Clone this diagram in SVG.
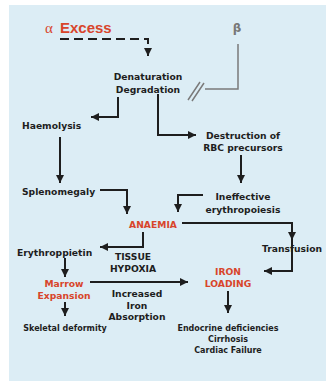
<svg xmlns="http://www.w3.org/2000/svg" width="326" height="381" viewBox="0 0 326 381">
<defs>
<marker id="ah" markerWidth="8" markerHeight="8" viewBox="0 0 8 8" refX="8" refY="4" orient="auto" markerUnits="userSpaceOnUse">
<path d="M0,0 L8,4 L0,8 Z" fill="#1e1e1e"/>
</marker>
<style>
.t{font-family:"DejaVu Sans",Verdana,sans-serif;font-weight:bold;font-size:9.2px;fill:#1e1e1e;text-anchor:middle}
.s{text-anchor:start}
.r{fill:#d8452b}
.sm{font-size:8px}
.c{fill:none;stroke:#1e1e1e;stroke-width:2}
.g{fill:none;stroke:#7a7a7a;stroke-width:1.5}
</style>
</defs>
<rect x="0" y="0" width="326" height="381" fill="#ffffff"/>
<rect x="9" y="5" width="317" height="376" fill="#dcedf5"/>
<g id="connectors">
<path class="c" d="M60,39 H148 V56" stroke-dasharray="9,5" marker-end="url(#ah)"/>
<path class="c" d="M118,97 V117 H91" marker-end="url(#ah)"/>
<path class="c" d="M158,94 V135 H196" marker-end="url(#ah)"/>
<path class="c" d="M60,137 V183" marker-end="url(#ah)"/>
<path class="c" d="M100,190 H127 V214" marker-end="url(#ah)"/>
<path class="c" d="M241,155 V183" marker-end="url(#ah)"/>
<path class="c" d="M203,195 H178 V212" marker-end="url(#ah)"/>
<path class="c" d="M182,223 H292 V240" marker-end="url(#ah)"/>
<path class="c" d="M292,240 V271 H264" marker-end="url(#ah)"/>
<path class="c" d="M143,232 V247 H100" marker-end="url(#ah)"/>
<path class="c" d="M65,258 V277" marker-end="url(#ah)"/>
<path class="c" d="M90,282 H188" marker-end="url(#ah)"/>
<path class="c" d="M65,302 V316" marker-end="url(#ah)"/>
<path class="c" d="M228,291 V313" marker-end="url(#ah)"/>
<path class="g" d="M238,44 V89 H205"/>
<path class="g" d="M188,100 L200,82 M192,101 L204,83"/>
</g>
<g id="alpha"><text x="45" y="33" style="font-family:'Liberation Serif',serif;font-size:15px;fill:#d8452b">α</text><text x="60" y="33" style="font-family:'Liberation Sans',Arial,sans-serif;font-weight:bold;font-size:15px;fill:#d8452b">Excess</text></g>
<g id="beta"><text x="237" y="32" style="font-family:'DejaVu Sans',sans-serif;font-weight:bold;font-size:12px;fill:#777;text-anchor:middle">β</text></g>
<g id="denaturation"><text class="t" x="148" y="79.5">Denaturation</text><text class="t" x="148" y="92.5">Degradation</text></g>
<g id="haemolysis"><text class="t s" x="22" y="128.5">Haemolysis</text></g>
<g id="destruction"><text class="t" x="243" y="138.5">Destruction of</text><text class="t" x="243" y="150.5">RBC precursors</text></g>
<g id="splenomegaly"><text class="t s" x="22" y="194.5">Splenomegaly</text></g>
<g id="ineffective"><text class="t" x="243" y="200">Ineffective</text><text class="t" x="243" y="212.5">erythropoiesis</text></g>
<g id="anaemia"><text class="t r" x="153" y="227.5">ANAEMIA</text></g>
<g id="erythropoietin"><text class="t s" x="17" y="256">Erythroppietin</text></g>
<g id="transfusion"><text class="t s" x="262" y="251.5">Transfusion</text></g>
<g id="hypoxia"><text class="t" x="133" y="259.5">TISSUE</text><text class="t" x="133" y="271.5">HYPOXIA</text></g>
<g id="iron-loading"><text class="t r" x="228" y="274.5">IRON</text><text class="t r" x="228" y="286.5">LOADING</text></g>
<g id="marrow"><text class="t r" x="64" y="286.5">Marrow</text><text class="t r" x="64" y="298.5">Expansion</text></g>
<g id="absorption"><text class="t" x="137" y="296.5">Increased</text><text class="t" x="137" y="308.5">Iron</text><text class="t" x="137" y="319.5">Absorption</text></g>
<g id="skeletal"><text class="t sm" x="65" y="331">Skeletal deformity</text></g>
<g id="complications"><text class="t sm" x="228" y="330.5">Endocrine deficiencies</text><text class="t sm" x="228" y="341.5">Cirrhosis</text><text class="t sm" x="228" y="352.5">Cardiac Failure</text></g>
</svg>
